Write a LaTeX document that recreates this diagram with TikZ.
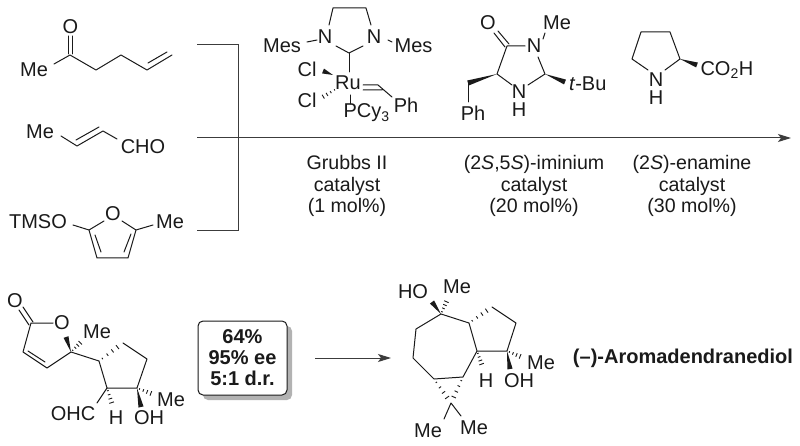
\documentclass[tikz,border=0pt]{standalone}
\usepackage{fontspec}
\setmainfont{Liberation Sans}
\usetikzlibrary{calc,arrows.meta}
\definecolor{ink}{HTML}{1A1A1A}
\tikzset{
  atom/.style={inner sep=0pt,outer sep=0pt,text=ink,font=\fontsize{20}{22}\selectfont},
  stack/.style={atom,align=center,font=\fontsize{20}{18}\selectfont},
  label/.style={atom,align=center,font=\fontsize{19.6}{21.8}\selectfont},
  bond/.style={draw=ink,line width=1pt,line cap=round,line join=round},
  rxn/.style={draw=ink!85,line width=1pt},
  tip/.style={-{Stealth[length=13pt,width=8pt,inset=3pt]}}
}
\newcommand{\wdg}[2]{\fill[ink] (#1) -- ($(#2)!2.6pt!90:(#1)$) -- ($(#2)!2.6pt!-90:(#1)$) -- cycle;}
\newcommand{\hsh}[2]{\foreach \t in {0.14,0.35,0.56,0.77,1.0}{
  \pgfmathsetmacro{\hw}{0.5+2.5*\t}
  \draw[ink,line width=0.9pt] ($(#1)!\t!(#2)!\hw pt!90:(#2)$) -- ($(#1)!\t!(#2)!\hw pt!-90:(#2)$);}}
\begin{document}
\begin{tikzpicture}[x=1pt,y=-1pt]
\useasboundingbox (0,0) rectangle (800,446);
\fill[white] (0,0) rectangle (800,446);

% ketone
\node[atom] (kO) at (70.5,27) {O};
\node[atom] (kMe) at (34,70) {Me};
\draw[bond] (54,64) -- (70,55) -- (96,70) -- (121,55) -- (147,70) -- (172,55);
\draw[bond] (68,36) -- (68,54) (72.5,36) -- (72.5,54);
\draw[bond] (148,63) -- (167,52);

% crotonaldehyde
\node[atom] (cMe) at (40,132) {Me};
\node[atom] (cCHO) at (143,147) {CHO};
\draw[bond] (61,136) -- (77,146) -- (103,131) -- (117,139);
\draw[bond] (76,140) -- (99,127);

% furan
\node[atom] (fTMS) at (38,222) {TMSO};
\node[atom] (fO) at (113,214) {O};
\node[atom] (fMe) at (170,222) {Me};
\draw[bond] (73,225) -- (89,230) -- (104,221);
\draw[bond] (122,221) -- (136,230) -- (153,225);
\draw[bond] (89,230) -- (97,258) -- (128,258) -- (136,230);
\draw[bond] (95,235) -- (101,252) (131,234) -- (124,252);

% bracket and main arrow
\coordinate (b1) at (197,45);
\coordinate (b2) at (238,45);
\coordinate (b3) at (238,231);
\coordinate (b4) at (197,231);
\coordinate (a1) at (197,138);
\coordinate (a2) at (791,138);
\draw[rxn] (b1) -- (b2) -- (b3) -- (b4);
\draw[rxn,tip] (a1) -- (a2);

% Grubbs II
\node[atom] (gN1) at (325,37) {N};
\node[atom] (gN2) at (374,37) {N};
\node[atom] (gM1) at (282,46) {Mes};
\node[atom] (gM2) at (413.5,46) {Mes};
\node[atom] (gRu) at (348,83) {Ru};
\node[atom] (gCl1) at (307,69) {Cl};
\node[atom] (gCl2) at (307,100) {Cl};
\node[atom,anchor=west] (gP) at (343.5,113) {PCy\textsubscript{3}};
\node[atom] (gPh) at (406,105) {Ph};
\draw[bond] (329,25) -- (333,8) -- (366,8) -- (371,25);
\draw[bond] (336,46) -- (349,53) -- (363,46);
\draw[bond] (349,53) -- (349,72);
\draw[bond] (307,42) -- (317,40) (388,40) -- (392,42);
\draw[bond] (350,95) -- (350,104);
\draw[bond] (363,85) -- (378,85) -- (392,97) (363,90) -- (382,90);
\wdg{333,75}{323,71}
\foreach \t in {0.1,0.35,0.6,0.85}{
  \pgfmathsetmacro{\hw}{0.5+2*\t}
  \draw[ink,line width=0.9pt] ($(336,89)!\t!(321,98)!\hw pt!90:(321,98)$) -- ($(336,89)!\t!(321,98)!\hw pt!-90:(321,98)$);}

% iminium catalyst
\node[atom] (iO) at (488,23) {O};
\node[atom] (iN1) at (534,46) {N};
\node[atom] (iMe) at (557,23) {Me};
\node[stack] (iN2) at (519,101) {N\\H};
\node[atom] (iPh) at (473,113) {Ph};
\node[atom,anchor=west] (iBu) at (569,84) {\textit{t}-Bu};
\draw[bond] (525,46) -- (507,46) -- (497,74) -- (512,85);
\draw[bond] (528,85) -- (545,74) -- (538,57);
\draw[bond] (543,39) -- (545,33);
\draw[bond] (505,47) -- (494,33) (509,44) -- (498,31);
\draw[bond] (468,83) -- (468,102);
\wdg{497,74}{468,83}
\wdg{545,74}{565,82}

% proline
\node[stack] (pN) at (656,89) {N\\H};
\node[atom,anchor=west] (pCO) at (700.5,70) {CO\textsubscript{2}H};
\draw[bond] (648,70) -- (632,59) -- (641,32) -- (670,32) -- (680,59) -- (665,70);
\wdg{680,59}{697,65}

% catalyst labels
\node[label] (lG) at (347,186) {Grubbs II\\catalyst\\(1 mol\%)};
\node[label] (lI) at (534,186) {(2\textit{S},5\textit{S})-iminium\\catalyst\\(20 mol\%)};
\node[label] (lE) at (692,186) {(2\textit{S})-enamine\\catalyst\\(30 mol\%)};

% lactone aldehyde
\node[atom] (hO1) at (15,301) {O};
\node[atom] (hO2) at (62,323) {O};
\node[atom] (hMe) at (97,332) {Me};
\node[atom] (hCHO) at (73,414) {OHC};
\node[atom] (hH) at (116,418) {H};
\node[atom] (hOH) at (149,418) {OH};
\node[atom] (hMe2) at (171,400) {Me};
\draw[bond] (53,323) -- (31,323) -- (23,352) -- (47,368) -- (71,352) -- (99,361) -- (107,388) -- (137,388) -- (147,359) -- (123,343);
\draw[bond] (28,351) -- (45,362);
\draw[bond] (29,325) -- (19,310) (33,322) -- (23,307);
\draw[bond] (107,388) -- (97,403);
\wdg{71,352}{66,337}
\hsh{71,352}{83,340}
\hsh{99,361}{123,343}
\hsh{107,388}{113,407}
\wdg{137,388}{141,407}
\hsh{137,388}{155,395}

% yield box
\fill[black!30,rounded corners=5pt] (203,326) rectangle (292,400);
\node[draw=ink,line width=1pt,rounded corners=5pt,fill=white,minimum width=89pt,minimum height=74pt,inner sep=0pt,
  align=center,text=ink,font=\bfseries\fontsize{20}{21}\selectfont] (box) at (242.5,358) {64\%\\95\% ee\\5:1 d.r.};

% second arrow
\coordinate (a3) at (315,358);
\coordinate (a4) at (391,358);
\draw[rxn,tip] (a3) -- (a4);

% product
\node[atom] (pHO) at (413,292) {HO};
\node[atom] (pMe) at (457,287) {Me};
\node[atom] (pOH) at (519,381) {OH};
\node[atom] (pMe2) at (541,363) {Me};
\node[atom] (pHH) at (486,381) {H};
\node[atom] (pMe3) at (428,431) {Me};
\node[atom] (pMe4) at (474,428) {Me};
\draw[bond] (441,314) -- (469,323) -- (477,351) -- (463,377) -- (434,379) -- (413,358) -- (416,329) -- cycle;
\draw[bond] (492,307) -- (516,323) -- (507,351) -- (477,351);
\draw[bond] (444,419) -- (451,403) -- (461,416);
\wdg{441,314}{432,302}
\hsh{441,314}{448,298}
\hsh{469,323}{492,307}
\wdg{507,351}{510,369}
\hsh{507,351}{524,358}
\hsh{477,351}{483,368}
\hsh{434,379}{451,403}
\hsh{463,377}{451,403}

\node[atom,anchor=east,font=\bfseries\fontsize{20}{22}\selectfont] (name) at (793,358) {(–)-Aromadendranediol};
\end{tikzpicture}
\end{document}
